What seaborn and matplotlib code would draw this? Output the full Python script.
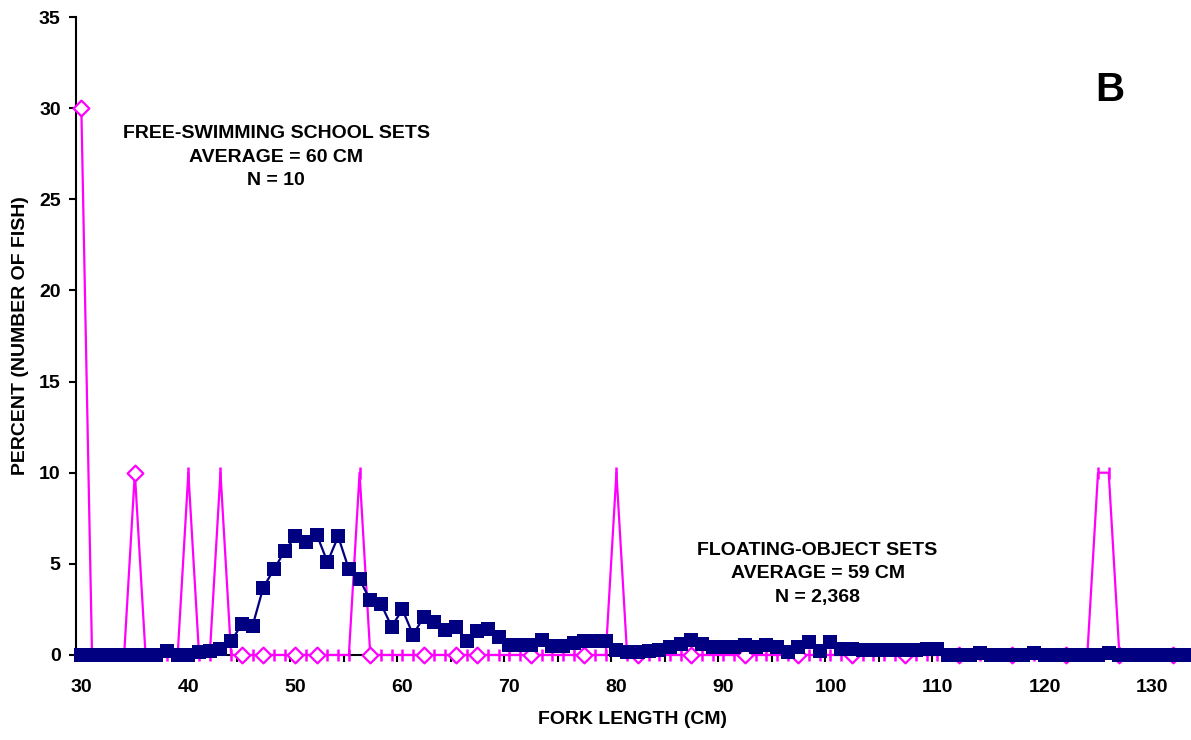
import numpy as np
import pandas as pd
import seaborn as sns
import matplotlib.pyplot as plt
from matplotlib.ticker import FixedLocator

sns.set_style("ticks")
plt.rcParams['font.family'] = ['Liberation Sans', 'DejaVu Sans']
plt.rcParams['font.weight'] = 'bold'
plt.rcParams['text.color'] = 'black'
plt.rcParams['axes.labelcolor'] = 'black'
plt.rcParams['xtick.color'] = 'black'
plt.rcParams['ytick.color'] = 'black'

# %% Dados (comprimento furcal 30..133 cm)
lengths = list(range(30, 134))

floating_pct = [
    0, 0, 0, 0, 0, 0, 0, 0, 0.2, 0,            # 30-39
    0, 0.15, 0.2, 0.35, 0.75, 1.7, 1.6, 3.7, 4.7, 5.7,   # 40-49
    6.5, 6.2, 6.6, 5.1, 6.5, 4.7, 4.15, 3.0, 2.8, 1.55,  # 50-59
    2.5, 1.1, 2.1, 1.8, 1.35, 1.55, 0.75, 1.3, 1.45, 1.0,  # 60-69
    0.55, 0.55, 0.55, 0.8, 0.5, 0.5, 0.65, 0.75, 0.75, 0.75,  # 70-79
    0.25, 0.15, 0.15, 0.2, 0.3, 0.45, 0.6, 0.8, 0.6, 0.45,  # 80-89
    0.45, 0.45, 0.55, 0.45, 0.55, 0.45, 0.15, 0.45, 0.7, 0.2,  # 90-99
    0.7, 0.35, 0.35, 0.25, 0.25, 0.25, 0.25, 0.25, 0.25, 0.35,  # 100-109
    0.35, 0, 0, 0, 0.12, 0, 0, 0, 0, 0.12,     # 110-119
    0, 0, 0, 0, 0, 0, 0.12, 0, 0, 0,           # 120-129
    0, 0, 0, 0,                                # 130-133
]

free_counts = {30: 30, 35: 10, 40: 10, 43: 10, 56: 10, 80: 10, 125: 10, 126: 10}
free_pct = [free_counts.get(l, 0) for l in lengths]

# pontos onde o marcador aparece como losango
diamond_at = [30, 35, 45, 47, 50, 52, 57, 62, 65, 67, 72, 77, 82, 87, 92,
              97, 102, 107, 112, 117, 122, 127, 132]

df = pd.DataFrame({"comp": lengths, "flutuante": floating_pct, "livre": free_pct})
df["losango"] = df["comp"].isin(diamond_at)

navy = "#000080"
magenta = "#FF00FF"

# %% Figura
fig = plt.figure(figsize=(11.91, 7.40), dpi=100)
ax = fig.add_axes([0.0638, 0.1149, 0.9345, 0.8621])

sns.lineplot(data=df, x="comp", y="livre", color=magenta, lw=1.6,
             zorder=3, clip_on=False, ax=ax)
sns.scatterplot(data=df[df["losango"]], x="comp", y="livre", marker="D", s=64,
                facecolor="white", edgecolor=magenta, linewidth=1.6,
                zorder=3.2, clip_on=False, ax=ax)
sns.scatterplot(data=df[~df["losango"]], x="comp", y="livre", marker="|", s=80,
                color=magenta, linewidth=1.8, zorder=3.1, clip_on=False, ax=ax)
sns.lineplot(data=df, x="comp", y="flutuante", color=navy, lw=1.6,
             marker="s", markersize=9.6, markeredgewidth=0,
             zorder=4, clip_on=False, ax=ax)

ax.set_xlim(29.5, 133.5)
ax.set_ylim(0, 35)
ax.set_yticks(range(0, 36, 5))
ax.set_xticks(range(30, 131, 10))
ax.xaxis.set_minor_locator(FixedLocator(np.arange(34.5, 133, 5)))
ax.tick_params(axis="x", which="major", length=0, pad=17, labelsize=14)
ax.tick_params(axis="x", which="minor", length=5, width=1.5, direction="out")
ax.tick_params(axis="y", length=5, width=1.5, pad=6, labelsize=14)
for lab in ax.get_xticklabels() + ax.get_yticklabels():
    lab.set_fontweight("bold")

sns.despine(ax=ax)
for side in ["left", "bottom"]:
    ax.spines[side].set_linewidth(1.5)
    ax.spines[side].set_color("black")

ax.set_xlabel("FORK LENGTH (CM)", fontsize=14, fontweight="bold", labelpad=11)
ax.set_ylabel("PERCENT (NUMBER OF FISH)", fontsize=14, fontweight="bold", labelpad=7)

ax.text(48.2, 27.3, "FREE-SWIMMING SCHOOL SETS\nAVERAGE = 60 CM\nN = 10",
        ha="center", va="center", fontsize=14, fontweight="bold", linespacing=1.5)
ax.text(98.8, 4.45, "FLOATING-OBJECT SETS\nAVERAGE = 59 CM\nN = 2,368",
        ha="center", va="center", fontsize=14, fontweight="bold", linespacing=1.5)
ax.text(126.1, 31.0, "B", ha="center", va="center", fontsize=29, fontweight="bold")

plt.savefig("out.png", dpi=100)
